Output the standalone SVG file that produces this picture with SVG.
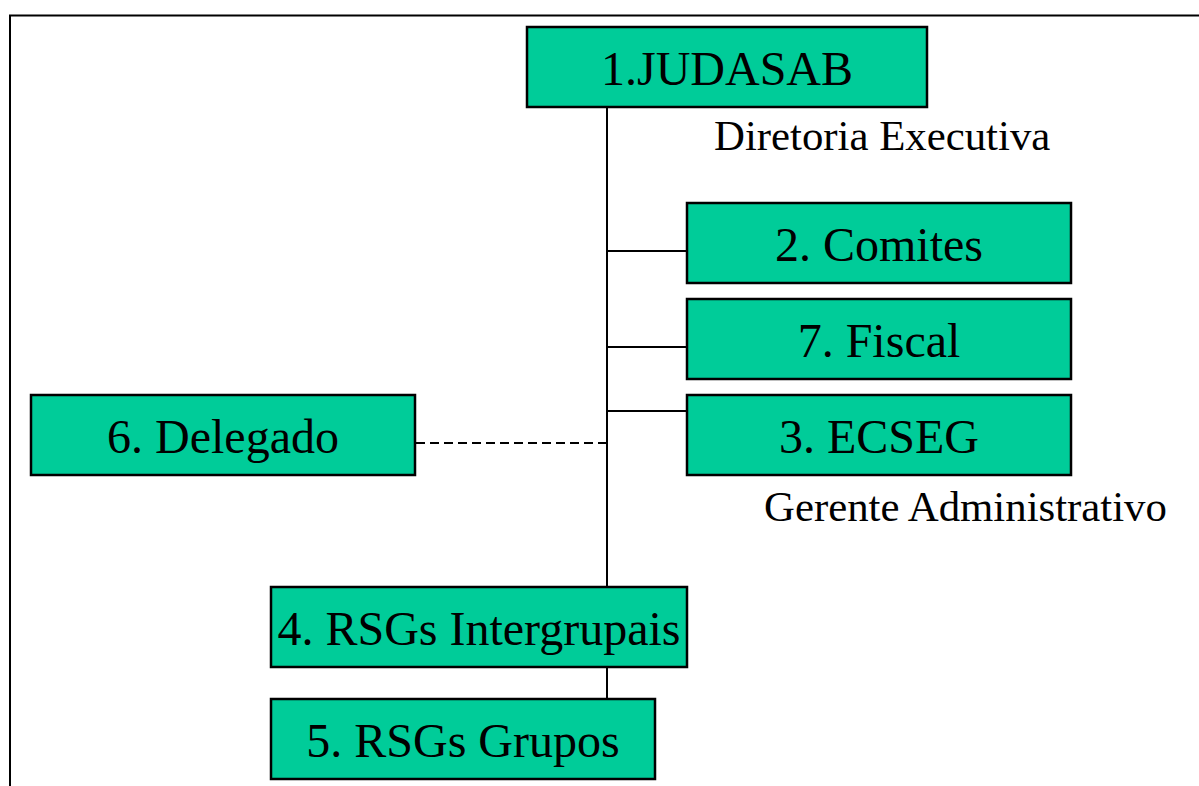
<svg xmlns="http://www.w3.org/2000/svg" width="1199" height="786" viewBox="0 0 1199 786">
  <style>
    .box { fill: #00CC99; stroke: #000; stroke-width: 2.5; }
    .t { font-family: "Liberation Serif", "Times New Roman", serif; font-size: 48px; fill: #000; text-anchor: middle; }
    .lbl { font-family: "Liberation Serif", "Times New Roman", serif; font-size: 42.8px; fill: #000; }
    .ln { stroke: #000; stroke-width: 2; fill: none; }
    .dash { stroke: #000; stroke-width: 2; fill: none; stroke-dasharray: 9 5; }
  </style>
  <rect x="0" y="0" width="1199" height="786" fill="#fff"/>
  <path d="M10,786 V15.5 H1199" fill="none" stroke="#000" stroke-width="2"/>

  <g id="connectors">
    <line class="ln" x1="607" y1="107" x2="607" y2="587"/>
    <line class="ln" x1="607" y1="667" x2="607" y2="699"/>
    <line class="ln" x1="607" y1="251" x2="687" y2="251"/>
    <line class="ln" x1="607" y1="347" x2="687" y2="347"/>
    <line class="ln" x1="607" y1="411" x2="687" y2="411"/>
    <line class="dash" x1="416" y1="443" x2="607" y2="443"/>
  </g>

  <g id="n1">
    <rect class="box" x="527" y="27" width="400" height="80"/>
    <text class="t" x="727" y="85">1.JUDASAB</text>
  </g>
  <g id="lbl-diretoria">
    <text class="lbl" x="714" y="150">Diretoria Executiva</text>
  </g>
  <g id="n2">
    <rect class="box" x="687" y="203" width="384" height="80"/>
    <text class="t" x="879" y="261">2. Comites</text>
  </g>
  <g id="n7">
    <rect class="box" x="687" y="299" width="384" height="80"/>
    <text class="t" x="879" y="357">7. Fiscal</text>
  </g>
  <g id="n3">
    <rect class="box" x="687" y="395" width="384" height="80"/>
    <text class="t" x="879" y="453">3. ECSEG</text>
  </g>
  <g id="lbl-gerente">
    <text class="lbl" x="764" y="521">Gerente Administrativo</text>
  </g>
  <g id="n6">
    <rect class="box" x="31" y="395" width="384" height="80"/>
    <text class="t" x="223" y="453">6. Delegado</text>
  </g>
  <g id="n4">
    <rect class="box" x="271" y="587" width="416" height="80"/>
    <text class="t" x="479" y="645">4. RSGs Intergrupais</text>
  </g>
  <g id="n5">
    <rect class="box" x="271" y="699" width="384" height="80"/>
    <text class="t" x="463" y="757">5. RSGs Grupos</text>
  </g>
</svg>
